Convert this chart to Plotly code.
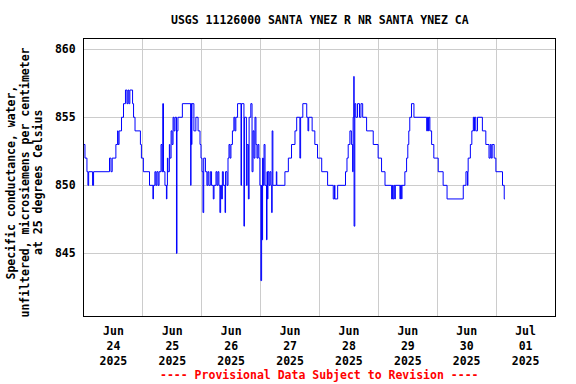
import datetime as dt
import plotly.graph_objects as go

# Specific conductance (uS/cm @25C), change points: hours since 2025-06-24 00:00
hours = [
    0.0, 0.4, 1.2, 1.6, 1.9, 3.5, 3.9, 10.4, 11.0, 11.5, 13.0, 13.7, 13.9, 14.3,
    15.3, 16.1, 16.9, 17.5, 17.9, 18.3, 18.7, 19.8, 20.2, 20.8, 23.0, 23.4, 24.2,
    26.7, 28.1, 28.3, 28.9, 29.3, 29.7, 30.2, 30.6, 31.4, 31.8, 32.1, 32.4, 33.0,
    33.6, 33.8, 34.0, 34.2, 34.8, 35.0, 35.5, 35.9, 36.3, 36.7, 37.1, 37.7, 37.9,
    38.3, 40.1, 43.5, 43.6, 43.8, 44.0, 44.8, 45.6, 46.5, 47.3, 47.7, 48.1, 48.5,
    48.8, 49.5, 50.1, 50.5, 50.9, 51.5, 52.0, 52.7, 53.0, 53.8, 54.2, 54.6, 55.0,
    55.4, 55.7, 56.1, 56.4, 56.8, 57.5, 57.7, 58.3, 58.7, 59.1, 59.5, 59.9, 60.5,
    61.1, 61.5, 61.9, 62.6, 64.0, 64.2, 65.2, 65.4, 66.2, 66.5, 67.0, 67.3, 68.0,
    68.5, 68.9, 69.3, 69.7, 70.1, 70.5, 70.9, 71.3, 71.7,
    72.1, 72.4, 72.5, 72.8, 73.1, 73.4, 73.8, 74.4, 74.6, 74.8, 75.0, 75.4, 75.8,
    76.2, 76.5, 76.7, 77.0, 78.4, 78.6, 81.9, 83.3, 84.6, 86.0, 86.7, 88.0, 88.3,
    89.2, 90.8, 91.3, 91.6, 93.0, 94.1, 95.2, 96.9, 99.3, 101.6, 102.1, 102.3,
    103.4, 106.6, 107.2, 107.7, 108.4, 109.0, 109.5, 109.7, 110.0, 110.1, 110.4,
    110.8, 111.5, 112.3, 112.9, 113.6, 115.2, 117.9, 119.9, 121.3, 122.7, 125.4,
    125.7, 125.9, 126.3, 126.7, 126.9, 128.8, 129.0, 129.5, 129.6, 130.8, 131.5,
    132.0, 132.4, 132.8, 133.5, 134.5, 139.7, 140.0, 140.4, 140.6, 141.0, 141.7,
    142.6, 144.4, 146.4, 148.0, 154.6, 155.7, 156.3, 156.5, 156.6, 157.5, 158.1,
    158.7, 159.0, 159.2, 159.7, 160.4, 162.4, 163.8, 165.1, 165.6, 166.0, 166.4,
    167.2, 167.9, 170.6, 171.3, 171.6,
]
values = [
    853, 852, 851, 850, 851, 850, 851, 852, 851, 852, 853, 854, 853, 854,
    855, 856, 857, 856, 857, 856, 857, 856, 855, 854, 853, 852, 851,
    850, 849, 850, 851, 850, 851, 850, 851, 853, 851, 856, 851, 850,
    849, 850, 852, 851, 853, 852, 854, 853, 855, 854, 855, 845, 854,
    855, 856, 850, 856, 853, 856, 854, 855, 854, 853, 852, 851, 848,
    852, 851, 850, 851, 850, 851, 850, 849, 850, 851, 850, 851, 850,
    848, 850, 849, 851, 850, 848, 851, 850, 852, 853, 852, 853, 854,
    855, 854, 855, 856, 850, 856, 847, 855, 850, 853, 849, 855, 856,
    851, 854, 852, 855, 853, 852, 853, 852, 850,
    843, 850, 846, 852, 850, 853, 850, 846, 851, 849, 851, 850, 851,
    850, 848, 854, 850, 851, 850, 851, 852, 853, 854, 855, 852, 855,
    856, 855, 854, 855, 854, 853, 852, 851, 850, 849, 850, 849,
    850, 851, 852, 853, 854, 853, 851, 855, 858, 847, 856,
    855, 856, 855, 856, 855, 854, 853, 852, 851, 850, 849,
    850, 849, 850, 849, 850, 849, 850, 849, 850, 851, 852,
    853, 854, 855, 856, 855, 854, 855, 854, 855, 854, 853,
    852, 851, 850, 849, 850, 851, 850, 851, 852, 853, 854,
    855, 854, 855, 854, 855, 854, 853, 852, 853, 852, 853,
    852, 851, 850, 849, 849,
]

day_labels = ["Jun<br>24<br>2025", "Jun<br>25<br>2025", "Jun<br>26<br>2025",
              "Jun<br>27<br>2025", "Jun<br>28<br>2025", "Jun<br>29<br>2025",
              "Jun<br>30<br>2025", "Jul<br>01<br>2025"]
y_ticks = [845, 850, 855, 860]
title_text = "USGS 11126000 SANTA YNEZ R NR SANTA YNEZ CA"
ytitle_lines = ["Specific conductance, water,",
                "unfiltered, microsiemens per centimeter",
                "at 25 degrees Celsius"]
footer_text = "---- Provisional Data Subject to Revision ----"

base = dt.datetime(2025, 6, 24)
times = [base + dt.timedelta(hours=h) for h in hours]
label_pos = [base + dt.timedelta(days=i, hours=12) for i in range(len(day_labels))]
midnights = [base + dt.timedelta(days=i) for i in range(9)]

FONT = "DejaVu Sans Mono"
fnt = dict(family=FONT, size=11.5, color="black", weight="bold")

fig = go.Figure()
fig.add_trace(go.Scatter(x=times, y=values, mode="lines",
                         line=dict(color="#0000ff", width=1, shape="hv"),
                         showlegend=False))

fig.update_layout(
    width=576, height=384,
    margin=dict(l=84, r=21, t=39, b=68),
    paper_bgcolor="white", plot_bgcolor="white",
    font=fnt,
    xaxis=dict(
        range=[midnights[0], midnights[-1]],
        tickmode="array", tickvals=label_pos, ticktext=day_labels,
        showgrid=False, ticks="", tickfont=fnt, ticklabelstandoff=4,
        showline=True, linecolor="black", linewidth=1, mirror=True,
        zeroline=False,
        minor=dict(tickmode="array", tickvals=midnights, showgrid=True,
                   gridcolor="#cccccc", gridwidth=1, ticks=""),
    ),
    yaxis=dict(
        range=[840.4, 860.75], tickmode="array", tickvals=y_ticks,
        showgrid=True, gridcolor="#cccccc", gridwidth=1, ticks="",
        tickfont=fnt, ticklabelstandoff=5,
        showline=True, linecolor="black", linewidth=1, mirror=True,
        zeroline=False,
    ),
)

annotations = [
    dict(text=title_text, xref="paper", yref="paper", x=0.5, y=1, yshift=19,
         yanchor="middle", xanchor="center", showarrow=False, font=fnt),
    dict(text=footer_text, xref="paper", yref="paper", x=0.5, y=0, yshift=-59,
         yanchor="middle", xanchor="center", showarrow=False,
         font=dict(family=FONT, size=11.5, color="#ff0000", weight="bold")),
]
for i, (line, px) in enumerate(zip(ytitle_lines, [10.5, 24.5, 38])):
    annotations.append(dict(text=line, xref="paper", yref="paper", x=0,
                            xshift=px - 84, y=(316 - 183) / 277,
                            xanchor="center", yanchor="middle", textangle=-90,
                            showarrow=False, font=fnt))
fig.update_layout(annotations=annotations)

fig.write_html("out.html", config={"displayModeBar": False},
               post_script="document.body.style.margin='0';document.body.style.padding='0';")
